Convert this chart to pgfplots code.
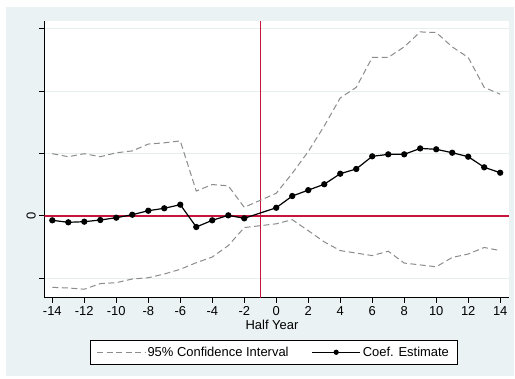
\documentclass[border=0pt]{standalone}
\usepackage{pgfplots}
\pgfplotsset{compat=1.18}
\usepackage{fontspec}
\setmainfont{Liberation Sans}
\definecolor{bgblue}{RGB}{234,242,243}
\definecolor{gridc}{RGB}{230,238,240}
\definecolor{cigray}{RGB}{140,140,140}
\definecolor{redl}{RGB}{200,20,60}
\pgfplotsset{
  cileg/.style={legend image code/.code={\draw[cigray, line width=1bp, dash pattern=on 6bp off 3.5bp] (0bp,0bp) -- (48bp,0bp);}},
  coefleg/.style={legend image code/.code={\draw[black, line width=1.2bp] (0bp,0bp) -- (48bp,0bp); \fill[black] (24bp,0bp) circle (2bp);}},
}
\begin{document}
\begin{tikzpicture}
\fill[white] (0,0) rectangle (515bp,379bp);
\fill[bgblue] (6bp,3bp) rectangle (514bp,372bp);
\begin{axis}[
  at={(44.3bp,81.3bp)}, anchor=south west,
  scale only axis, width=464.7bp, height=277bp,
  xmin=-14.5, xmax=14.55, ymin=-1.316, ymax=3.13,
  axis background/.style={fill=white},
  axis x line*=bottom, axis y line*=left,
  axis line style={black, line width=0.9bp},
  tick align=outside, major tick length=5bp,
  tick style={black, line width=0.9bp},
  xtick={-14,-12,...,14},
  xticklabels={-14,-12,-10,-8,-6,-4,-2,0,2,4,6,8,10,12,14},
  ytick={-1,0,1,2,3}, yticklabels={,0,,,},
  yticklabel style={rotate=90, anchor=south},
  ymajorgrids, major grid style={gridc, line width=1bp},
  tick label style={font=\fontsize{13}{15}\selectfont},
  xlabel={Half Year},
  xlabel style={at={(axis description cs:0.49,-0.0986)}, anchor=center, font=\fontsize{13}{15}\selectfont},
  legend columns=2,
  legend style={at={(axis description cs:0.4937,-0.197)}, anchor=center,
     draw=black, fill=white, line width=0.8bp, font=\fontsize{13}{15}\selectfont,
     /tikz/every even column/.append style={column sep=21bp},
     inner xsep=6bp, inner ysep=4.5bp},
]
\addplot[redl, line width=1.8bp, no markers, forget plot] coordinates {(-14.5,0) (14.55,0)};
\addplot[redl, line width=1.3bp, no markers, forget plot] coordinates {(-1,-1.316) (-1,3.13)};
\addplot[cigray, line width=1bp, dash pattern=on 6bp off 3.5bp, no markers, cileg] coordinates {
(-14,0.995) (-13,0.947) (-12,0.995) (-11,0.947) (-10,1.01) (-9,1.04) (-8,1.15) (-7,1.17) (-6,1.20)
(-5,0.396) (-4,0.50) (-3,0.48) (-2,0.135) (0,0.36) (1,0.68) (2,1.03) (3,1.44) (4,1.89) (5,2.06)
(6,2.54) (7,2.54) (8,2.71) (9,2.95) (10,2.94) (11,2.71) (12,2.54) (13,2.06) (14,1.95)};
\addlegendentry{95\% Confidence Interval}
\addplot[cigray, line width=1bp, dash pattern=on 6bp off 3.5bp, no markers, forget plot] coordinates {
(-14,-1.15) (-13,-1.16) (-12,-1.18) (-11,-1.09) (-10,-1.075) (-9,-1.016) (-8,-0.995) (-7,-0.936)
(-6,-0.86) (-5,-0.754) (-4,-0.663) (-3,-0.48) (-2,-0.19) (0,-0.13) (1,-0.064) (2,-0.24) (3,-0.42)
(4,-0.56) (5,-0.60) (6,-0.64) (7,-0.57) (8,-0.76) (9,-0.79) (10,-0.82) (11,-0.67) (12,-0.615)
(13,-0.51) (14,-0.56)};
\addplot[black, line width=1.2bp, mark=*, mark size=2.5bp, mark options={solid, fill=black}, coefleg] coordinates {
(-14,-0.074) (-13,-0.106) (-12,-0.096) (-11,-0.069) (-10,-0.032) (-9,0.016) (-8,0.08) (-7,0.119)
(-6,0.177) (-5,-0.181) (-4,-0.074) (-3,0.006) (-2,-0.042) (0,0.128) (1,0.316) (2,0.41) (3,0.505)
(4,0.674) (5,0.75) (6,0.953) (7,0.985) (8,0.985) (9,1.08) (10,1.066) (11,1.011) (12,0.947)
(13,0.777) (14,0.69)};
\addlegendentry{Coef. Estimate}
\end{axis}
\end{tikzpicture}
\end{document}
